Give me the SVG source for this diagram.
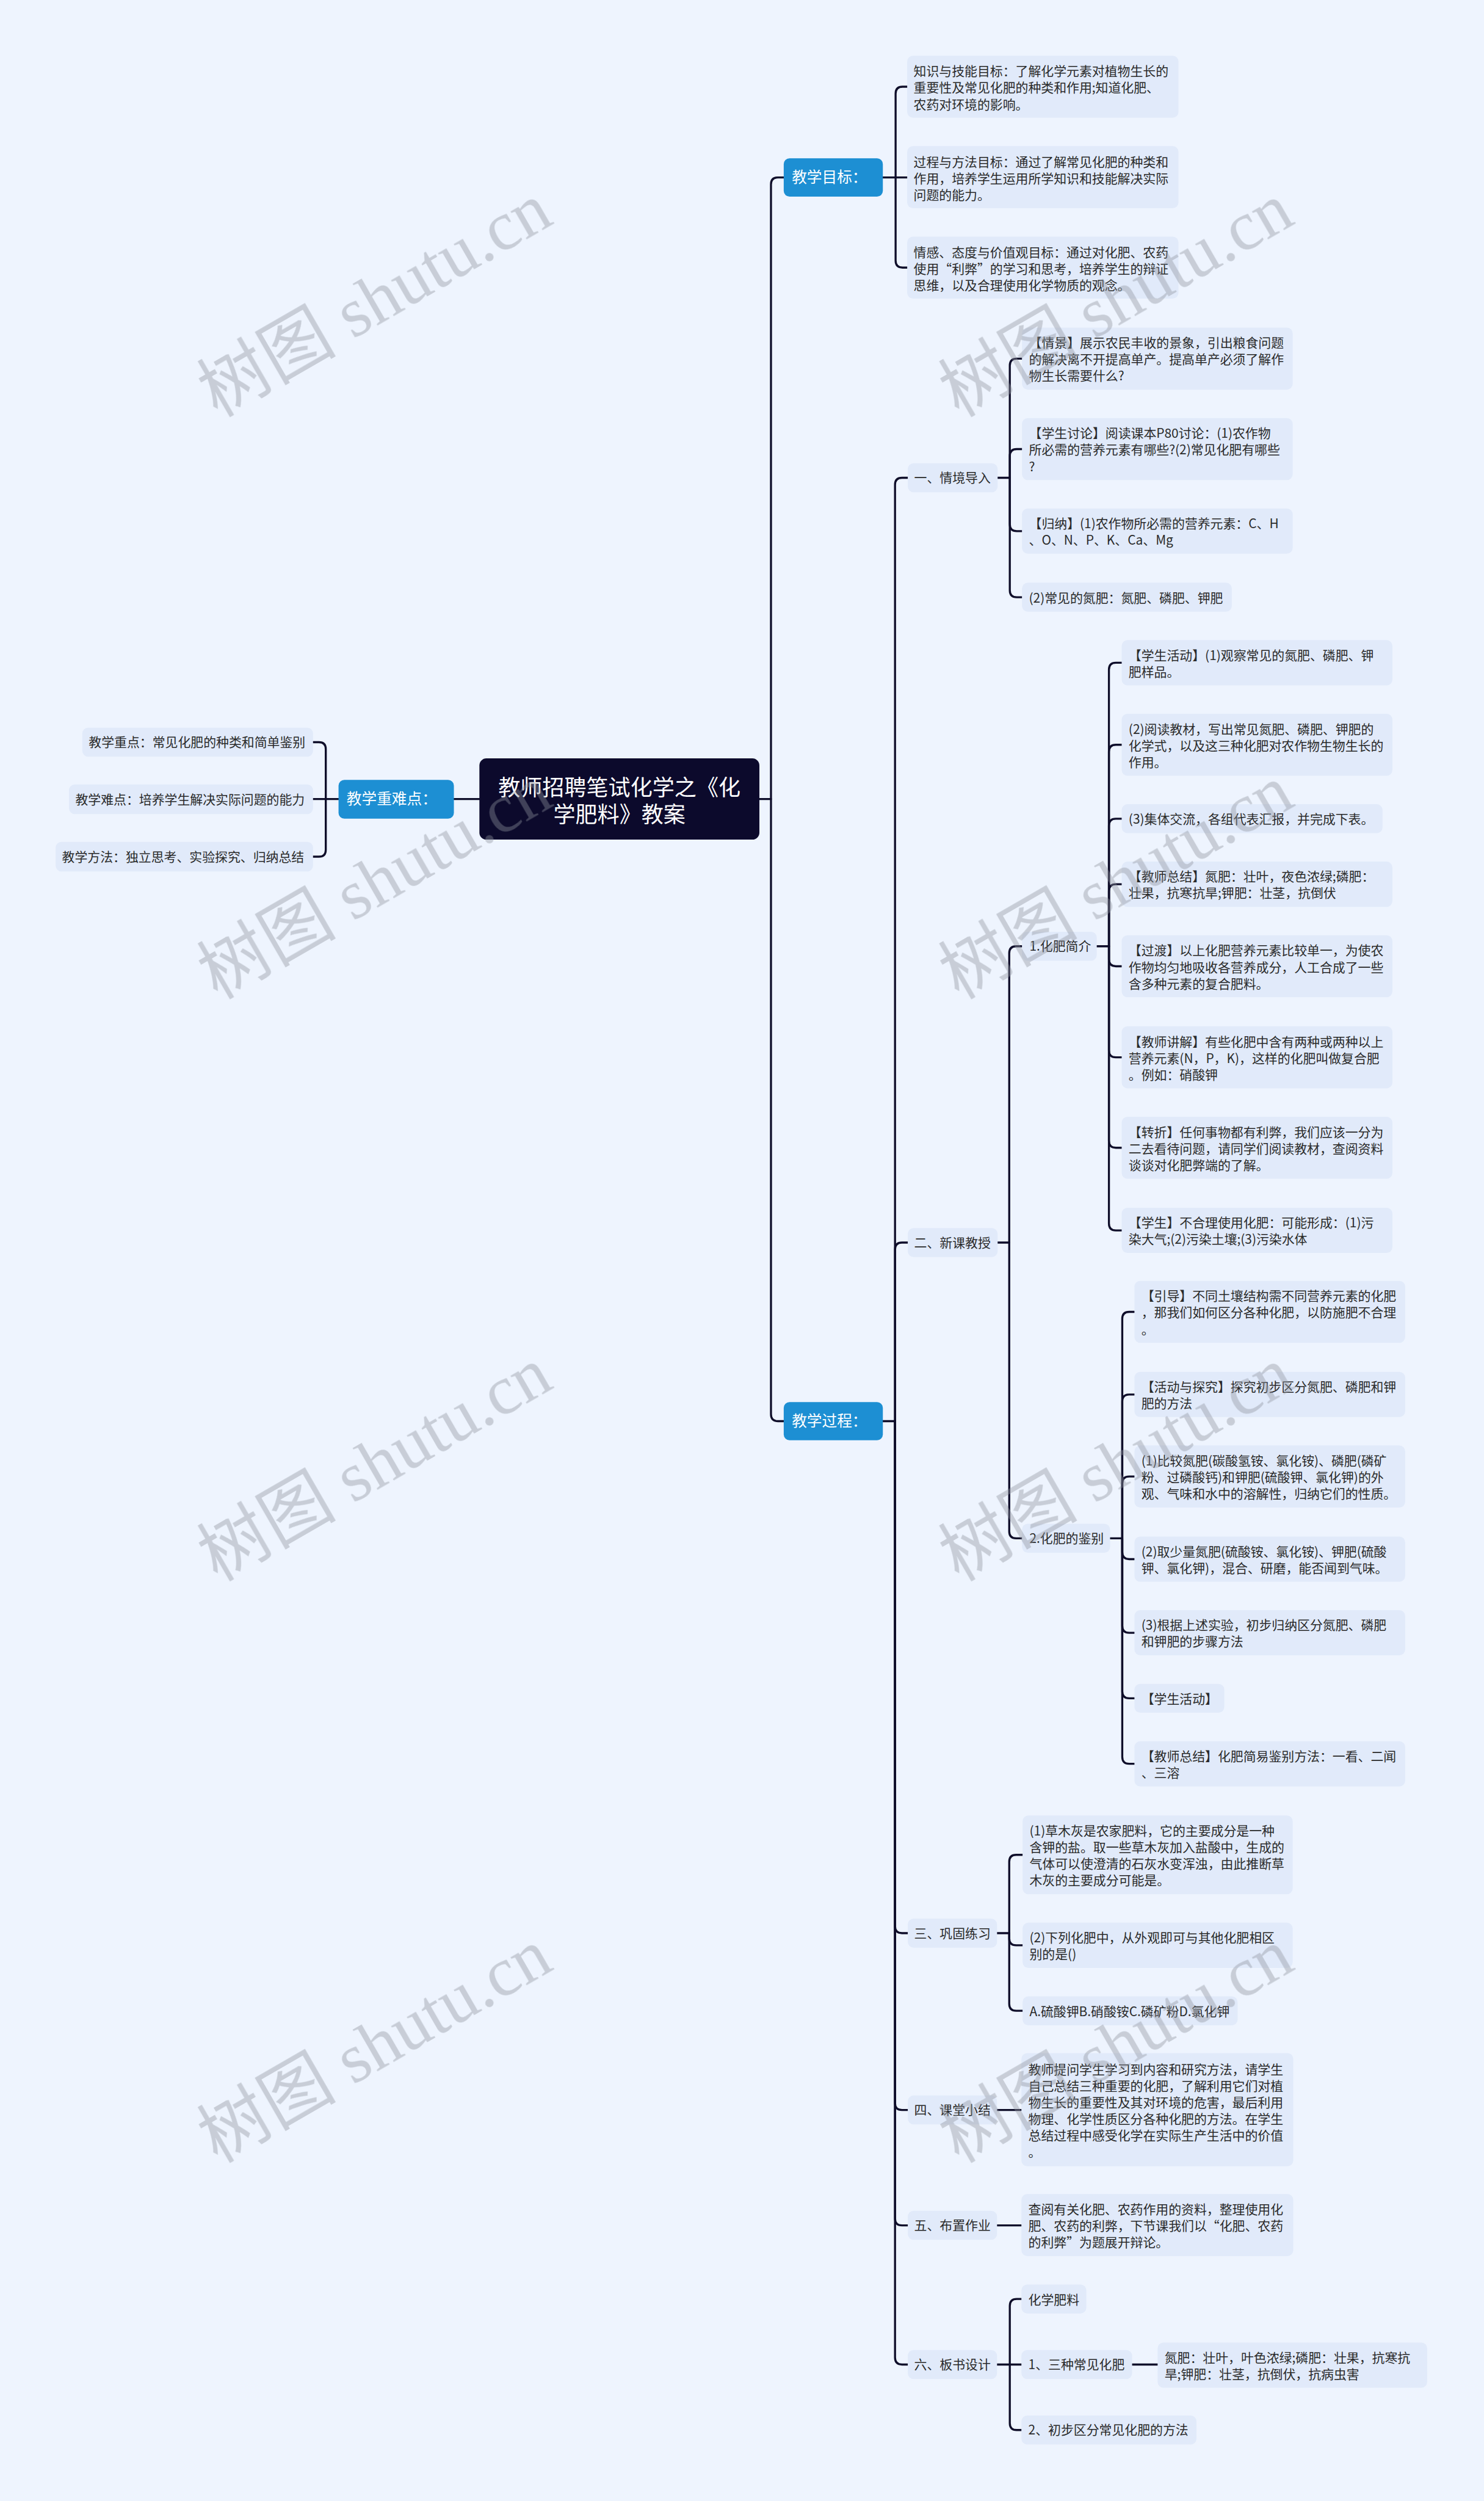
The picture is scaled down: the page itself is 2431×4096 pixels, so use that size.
<svg xmlns="http://www.w3.org/2000/svg" width="2431" height="4096" viewBox="0 0 2431 4096">
<style>
.t{font-family:"Noto Sans CJK SC","Noto Sans",sans-serif;font-size:22px;fill:#2a2a2a}
.w{font-family:"Noto Sans CJK SC","Noto Sans",sans-serif;fill:#ffffff}
.leaf{fill:#E1EAFA}
.blue{fill:#1D8FD3}
.c{fill:none;stroke:#0F0E2A;stroke-width:3.5;stroke-linecap:round;stroke-linejoin:round}
.wm{font-family:"Liberation Serif","Noto Sans CJK SC",serif;font-size:120px;fill:#8E949E;opacity:0.4}
</style>
<rect width="2431" height="4096" fill="#EEF4FE"/>
<g transform="scale(0.9496)">
<g id="connectors" class="c">
<path d="M783,1378H827"/>
<path d="M1310,1378H1330V318Q1330,306 1342,306H1352"/>
<path d="M1330,1378V2439Q1330,2451 1342,2451H1352"/>
<path d="M584,1378H562V1292Q562,1280 550,1280H540"/>
<path d="M562,1378H540"/>
<path d="M562,1378V1465.5Q562,1477.5 550,1477.5H540"/>
<path d="M1523,306H1545V161.5Q1545,149.5 1557,149.5H1565"/>
<path d="M1545,306H1565"/>
<path d="M1545,306V449.5Q1545,461.5 1557,461.5H1565"/>
<path d="M1523,2451H1544V836Q1544,824 1556,824H1566"/>
<path d="M1544,2451V2155Q1544,2143 1556,2143H1566"/>
<path d="M1544,2451V3322Q1544,3334 1556,3334H1566"/>
<path d="M1544,2451V3627Q1544,3639 1556,3639H1566"/>
<path d="M1544,2451V3826Q1544,3838 1556,3838H1566"/>
<path d="M1544,2451V4066Q1544,4078 1556,4078H1566"/>
<path d="M1721,824H1742V630.5Q1742,618.5 1754,618.5H1763"/>
<path d="M1742,824V786.5Q1742,774.5 1754,774.5H1763"/>
<path d="M1742,824V904Q1742,916 1754,916H1763"/>
<path d="M1742,824V1018Q1742,1030 1754,1030H1763"/>
<path d="M1721,2143H1741V1644Q1741,1632 1753,1632H1763"/>
<path d="M1741,2143V2641Q1741,2653 1753,2653H1763"/>
<path d="M1892,1632H1913V1155Q1913,1143 1925,1143H1935"/>
<path d="M1913,1632V1296.5Q1913,1284.5 1925,1284.5H1935"/>
<path d="M1913,1632V1424Q1913,1412 1925,1412H1935"/>
<path d="M1913,1632V1537Q1913,1525 1925,1525H1935"/>
<path d="M1913,1632V1654.5Q1913,1666.5 1925,1666.5H1935"/>
<path d="M1913,1632V1811.5Q1913,1823.5 1925,1823.5H1935"/>
<path d="M1913,1632V1967.5Q1913,1979.5 1925,1979.5H1935"/>
<path d="M1913,1632V2110Q1913,2122 1925,2122H1935"/>
<path d="M1915,2653H1936V2274.5Q1936,2262.5 1948,2262.5H1957"/>
<path d="M1936,2653V2417Q1936,2405 1948,2405H1957"/>
<path d="M1936,2653V2558.5Q1936,2546.5 1948,2546.5H1957"/>
<path d="M1936,2653V2677Q1936,2689 1948,2689H1957"/>
<path d="M1936,2653V2804Q1936,2816 1948,2816H1957"/>
<path d="M1936,2653V2917Q1936,2929 1948,2929H1957"/>
<path d="M1936,2653V3030Q1936,3042 1948,3042H1957"/>
<path d="M1720,3334H1741V3211Q1741,3199 1753,3199H1764"/>
<path d="M1741,3334V3343Q1741,3355 1753,3355H1764"/>
<path d="M1741,3334V3456Q1741,3468 1753,3468H1764"/>
<path d="M1720,3639H1762"/>
<path d="M1720,3838H1762"/>
<path d="M1720,4078H1742V3977Q1742,3965 1754,3965H1762"/>
<path d="M1742,4078H1762"/>
<path d="M1742,4078V4179Q1742,4191 1754,4191H1762"/>
<path d="M1953,4078H1997"/>
</g>

<g id="root">
<rect x="827" y="1308" width="483" height="140" rx="12" fill="#0C0A2C"/>
<text class="w" font-size="38" text-anchor="middle"><tspan x="1068.5" y="1372">教师招聘笔试化学之《化</tspan><tspan x="1068.5" y="1419">学肥料》教案</tspan></text>
</g>

<g id="n-zhongnandian">
<rect class="blue" x="584" y="1345" width="199" height="67" rx="10"/>
<text class="w" font-size="26" x="598" y="1387">教学重难点：</text>
</g>
<g id="n-zhongdian">
<rect class="leaf" x="142" y="1255" width="398" height="50" rx="10"/>
<text class="t" x="153" y="1288">教学重点：常见化肥的种类和简单鉴别</text>
</g>
<g id="n-nandian">
<rect class="leaf" x="119" y="1353" width="421" height="51" rx="10"/>
<text class="t" x="130" y="1387">教学难点：培养学生解决实际问题的能力</text>
</g>
<g id="n-fangfa">
<rect class="leaf" x="96" y="1452" width="444" height="51" rx="10"/>
<text class="t" x="107" y="1486">教学方法：独立思考、实验探究、归纳总结</text>
</g>

<g id="n-mubiao">
<rect class="blue" x="1352" y="273" width="171" height="66" rx="10"/>
<text class="w" font-size="26" x="1366" y="315">教学目标：</text>
</g>
<g id="n-g1">
<rect class="leaf" x="1565" y="96" width="468" height="107" rx="10"/>
<text class="t"><tspan x="1576" y="131">知识与技能目标：了解化学元素对植物生长的</tspan><tspan x="1576" dy="28.5">重要性及常见化肥的种类和作用;知道化肥、</tspan><tspan x="1576" dy="28.5">农药对环境的影响。</tspan></text>
</g>
<g id="n-g2">
<rect class="leaf" x="1565" y="252" width="468" height="107" rx="10"/>
<text class="t"><tspan x="1576" y="287">过程与方法目标：通过了解常见化肥的种类和</tspan><tspan x="1576" dy="28.5">作用，培养学生运用所学知识和技能解决实际</tspan><tspan x="1576" dy="28.5">问题的能力。</tspan></text>
</g>
<g id="n-g3">
<rect class="leaf" x="1565" y="408" width="468" height="107" rx="10"/>
<text class="t"><tspan x="1576" y="443">情感、态度与价值观目标：通过对化肥、农药</tspan><tspan x="1576" dy="28.5">使用“利弊”的学习和思考，培养学生的辩证</tspan><tspan x="1576" dy="28.5">思维，以及合理使用化学物质的观念。</tspan></text>
</g>

<g id="n-guocheng">
<rect class="blue" x="1352" y="2418" width="171" height="66" rx="10"/>
<text class="w" font-size="26" x="1366" y="2460">教学过程：</text>
</g>

<g id="n-s">
<rect class="leaf" x="1566" y="799" width="155" height="50" rx="10"/>
<text class="t" x="1577" y="832">一、情境导入</text>
</g>
<g id="n-s1">
<rect class="leaf" x="1763" y="565" width="467" height="107" rx="10"/>
<text class="t"><tspan x="1775" y="599.5">【情景】展示农民丰收的景象，引出粮食问题</tspan><tspan x="1775" dy="28.5">的解决离不开提高单产。提高单产必须了解作</tspan><tspan x="1775" dy="28.5">物生长需要什么?</tspan></text>
</g>
<g id="n-s2">
<rect class="leaf" x="1763" y="721" width="467" height="107" rx="10"/>
<text class="t"><tspan x="1775" y="755.5">【学生讨论】阅读课本P80讨论：(1)农作物</tspan><tspan x="1775" dy="28.5">所必需的营养元素有哪些?(2)常见化肥有哪些</tspan><tspan x="1775" dy="28.5">?</tspan></text>
</g>
<g id="n-s3">
<rect class="leaf" x="1763" y="877" width="467" height="78" rx="10"/>
<text class="t"><tspan x="1775" y="911">【归纳】(1)农作物所必需的营养元素：C、H</tspan><tspan x="1775" dy="28.5">、O、N、P、K、Ca、Mg</tspan></text>
</g>
<g id="n-s4">
<rect class="leaf" x="1763" y="1005" width="362" height="50" rx="10"/>
<text class="t" x="1775" y="1039">(2)常见的氮肥：氮肥、磷肥、钾肥</text>
</g>

<g id="n-x">
<rect class="leaf" x="1566" y="2118" width="155" height="50" rx="10"/>
<text class="t" x="1577" y="2151">二、新课教授</text>
</g>
<g id="n-k">
<rect class="leaf" x="1763" y="1607" width="129" height="50" rx="10"/>
<text class="t" x="1776" y="1640">1.化肥简介</text>
</g>
<g id="n-k1">
<rect class="leaf" x="1935" y="1104" width="467" height="78" rx="10"/>
<text class="t"><tspan x="1947" y="1138">【学生活动】(1)观察常见的氮肥、磷肥、钾</tspan><tspan x="1947" dy="28.5">肥样品。</tspan></text>
</g>
<g id="n-k2">
<rect class="leaf" x="1935" y="1231" width="467" height="107" rx="10"/>
<text class="t"><tspan x="1947" y="1265.5">(2)阅读教材，写出常见氮肥、磷肥、钾肥的</tspan><tspan x="1947" dy="28.5">化学式，以及这三种化肥对农作物生物生长的</tspan><tspan x="1947" dy="28.5">作用。</tspan></text>
</g>
<g id="n-k3">
<rect class="leaf" x="1935" y="1387" width="450" height="50" rx="10"/>
<text class="t" x="1947" y="1421">(3)集体交流，各组代表汇报，并完成下表。</text>
</g>
<g id="n-k4">
<rect class="leaf" x="1935" y="1486" width="467" height="78" rx="10"/>
<text class="t"><tspan x="1947" y="1520">【教师总结】氮肥：壮叶，夜色浓绿;磷肥：</tspan><tspan x="1947" dy="28.5">壮果，抗寒抗旱;钾肥：壮茎，抗倒伏</tspan></text>
</g>
<g id="n-k5">
<rect class="leaf" x="1935" y="1613" width="467" height="107" rx="10"/>
<text class="t"><tspan x="1947" y="1647.5">【过渡】以上化肥营养元素比较单一，为使农</tspan><tspan x="1947" dy="28.5">作物均匀地吸收各营养成分，人工合成了一些</tspan><tspan x="1947" dy="28.5">含多种元素的复合肥料。</tspan></text>
</g>
<g id="n-k6">
<rect class="leaf" x="1935" y="1770" width="467" height="107" rx="10"/>
<text class="t"><tspan x="1947" y="1804.5">【教师讲解】有些化肥中含有两种或两种以上</tspan><tspan x="1947" dy="28.5">营养元素(N，P，K)，这样的化肥叫做复合肥</tspan><tspan x="1947" dy="28.5">。例如：硝酸钾</tspan></text>
</g>
<g id="n-k7">
<rect class="leaf" x="1935" y="1926" width="467" height="107" rx="10"/>
<text class="t"><tspan x="1947" y="1960.5">【转折】任何事物都有利弊，我们应该一分为</tspan><tspan x="1947" dy="28.5">二去看待问题，请同学们阅读教材，查阅资料</tspan><tspan x="1947" dy="28.5">谈谈对化肥弊端的了解。</tspan></text>
</g>
<g id="n-k8">
<rect class="leaf" x="1935" y="2083" width="467" height="78" rx="10"/>
<text class="t"><tspan x="1947" y="2117">【学生】不合理使用化肥：可能形成：(1)污</tspan><tspan x="1947" dy="28.5">染大气;(2)污染土壤;(3)污染水体</tspan></text>
</g>

<g id="n-j">
<rect class="leaf" x="1763" y="2628" width="152" height="50" rx="10"/>
<text class="t" x="1776" y="2661">2.化肥的鉴别</text>
</g>
<g id="n-j1">
<rect class="leaf" x="1957" y="2209" width="467" height="107" rx="10"/>
<text class="t"><tspan x="1969" y="2243.5">【引导】不同土壤结构需不同营养元素的化肥</tspan><tspan x="1969" dy="28.5">，那我们如何区分各种化肥，以防施肥不合理</tspan><tspan x="1969" dy="28.5">。</tspan></text>
</g>
<g id="n-j2">
<rect class="leaf" x="1957" y="2366" width="467" height="78" rx="10"/>
<text class="t"><tspan x="1969" y="2400">【活动与探究】探究初步区分氮肥、磷肥和钾</tspan><tspan x="1969" dy="28.5">肥的方法</tspan></text>
</g>
<g id="n-j3">
<rect class="leaf" x="1957" y="2493" width="467" height="107" rx="10"/>
<text class="t"><tspan x="1969" y="2527.5">(1)比较氮肥(碳酸氢铵、氯化铵)、磷肥(磷矿</tspan><tspan x="1969" dy="28.5">粉、过磷酸钙)和钾肥(硫酸钾、氯化钾)的外</tspan><tspan x="1969" dy="28.5">观、气味和水中的溶解性，归纳它们的性质。</tspan></text>
</g>
<g id="n-j4">
<rect class="leaf" x="1957" y="2650" width="467" height="78" rx="10"/>
<text class="t"><tspan x="1969" y="2684">(2)取少量氮肥(硫酸铵、氯化铵)、钾肥(硫酸</tspan><tspan x="1969" dy="28.5">钾、氯化钾)，混合、研磨，能否闻到气味。</tspan></text>
</g>
<g id="n-j5">
<rect class="leaf" x="1957" y="2777" width="467" height="78" rx="10"/>
<text class="t"><tspan x="1969" y="2811">(3)根据上述实验，初步归纳区分氮肥、磷肥</tspan><tspan x="1969" dy="28.5">和钾肥的步骤方法</tspan></text>
</g>
<g id="n-j6">
<rect class="leaf" x="1957" y="2904" width="155" height="50" rx="10"/>
<text class="t" x="1969" y="2938">【学生活动】</text>
</g>
<g id="n-j7">
<rect class="leaf" x="1957" y="3003" width="467" height="78" rx="10"/>
<text class="t"><tspan x="1969" y="3037">【教师总结】化肥简易鉴别方法：一看、二闻</tspan><tspan x="1969" dy="28.5">、三溶</tspan></text>
</g>

<g id="n-p">
<rect class="leaf" x="1566" y="3309" width="154" height="50" rx="10"/>
<text class="t" x="1577" y="3342">三、巩固练习</text>
</g>
<g id="n-p1">
<rect class="leaf" x="1764" y="3131" width="466" height="136" rx="10"/>
<text class="t"><tspan x="1776" y="3165.5">(1)草木灰是农家肥料，它的主要成分是一种</tspan><tspan x="1776" dy="28.5">含钾的盐。取一些草木灰加入盐酸中，生成的</tspan><tspan x="1776" dy="28.5">气体可以使澄清的石灰水变浑浊，由此推断草</tspan><tspan x="1776" dy="28.5">木灰的主要成分可能是。</tspan></text>
</g>
<g id="n-p2">
<rect class="leaf" x="1764" y="3316" width="466" height="78" rx="10"/>
<text class="t"><tspan x="1776" y="3350">(2)下列化肥中，从外观即可与其他化肥相区</tspan><tspan x="1776" dy="28.5">别的是()</tspan></text>
</g>
<g id="n-p3">
<rect class="leaf" x="1764" y="3443" width="371" height="50" rx="10"/>
<text class="t" x="1776" y="3477">A.硫酸钾B.硝酸铵C.磷矿粉D.氯化钾</text>
</g>

<g id="n-xj">
<rect class="leaf" x="1566" y="3614" width="154" height="50" rx="10"/>
<text class="t" x="1577" y="3647">四、课堂小结</text>
</g>
<g id="n-xj1">
<rect class="leaf" x="1762" y="3541" width="469" height="195" rx="10"/>
<text class="t"><tspan x="1774" y="3577">教师提问学生学习到内容和研究方法，请学生</tspan><tspan x="1774" dy="28.5">自己总结三种重要的化肥，了解利用它们对植</tspan><tspan x="1774" dy="28.5">物生长的重要性及其对环境的危害，最后利用</tspan><tspan x="1774" dy="28.5">物理、化学性质区分各种化肥的方法。在学生</tspan><tspan x="1774" dy="28.5">总结过程中感受化学在实际生产生活中的价值</tspan><tspan x="1774" dy="28.5">。</tspan></text>
</g>

<g id="n-zy">
<rect class="leaf" x="1566" y="3813" width="154" height="50" rx="10"/>
<text class="t" x="1577" y="3846">五、布置作业</text>
</g>
<g id="n-zy1">
<rect class="leaf" x="1762" y="3784" width="469" height="107" rx="10"/>
<text class="t"><tspan x="1774" y="3818.5">查阅有关化肥、农药作用的资料，整理使用化</tspan><tspan x="1774" dy="28.5">肥、农药的利弊，下节课我们以“化肥、农药</tspan><tspan x="1774" dy="28.5">的利弊”为题展开辩论。</tspan></text>
</g>

<g id="n-bs">
<rect class="leaf" x="1566" y="4053" width="154" height="50" rx="10"/>
<text class="t" x="1577" y="4086">六、板书设计</text>
</g>
<g id="n-bs1">
<rect class="leaf" x="1762" y="3940" width="112" height="50" rx="10"/>
<text class="t" x="1774" y="3974">化学肥料</text>
</g>
<g id="n-bs2">
<rect class="leaf" x="1762" y="4053" width="191" height="50" rx="10"/>
<text class="t" x="1774" y="4086">1、三种常见化肥</text>
</g>
<g id="n-bs21">
<rect class="leaf" x="1997" y="4040" width="465" height="78" rx="10"/>
<text class="t"><tspan x="2009" y="4074">氮肥：壮叶，叶色浓绿;磷肥：壮果，抗寒抗</tspan><tspan x="2009" dy="28.5">旱;钾肥：壮茎，抗倒伏，抗病虫害</tspan></text>
</g>
<g id="n-bs3">
<rect class="leaf" x="1762" y="4166" width="302" height="50" rx="10"/>
<text class="t" x="1774" y="4199">2、初步区分常见化肥的方法</text>
</g>

<g id="watermarks" class="wm">
<text transform="translate(646,517) rotate(-30)" text-anchor="middle" y="40">树图 shutu.cn</text>
<text transform="translate(1925,517) rotate(-30)" text-anchor="middle" y="40">树图 shutu.cn</text>
<text transform="translate(646,1521) rotate(-30)" text-anchor="middle" y="40">树图 shutu.cn</text>
<text transform="translate(1925,1521) rotate(-30)" text-anchor="middle" y="40">树图 shutu.cn</text>
<text transform="translate(646,2525) rotate(-30)" text-anchor="middle" y="40">树图 shutu.cn</text>
<text transform="translate(1925,2525) rotate(-30)" text-anchor="middle" y="40">树图 shutu.cn</text>
<text transform="translate(646,3528) rotate(-30)" text-anchor="middle" y="40">树图 shutu.cn</text>
<text transform="translate(1925,3528) rotate(-30)" text-anchor="middle" y="40">树图 shutu.cn</text>
</g>
</g>
</svg>
